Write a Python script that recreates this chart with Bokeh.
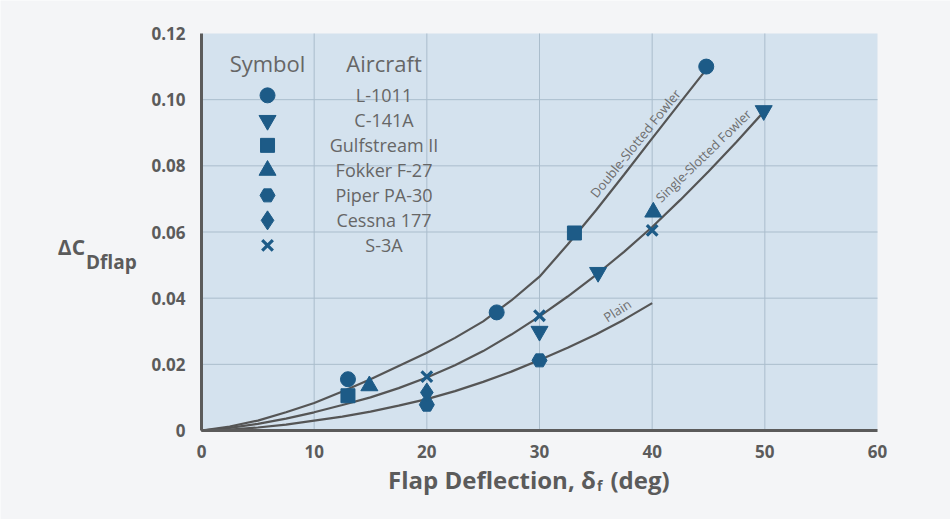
from bokeh.plotting import figure
from bokeh.models import FixedTicker, Label
from bokeh.core.properties import value
from bokeh.embed import file_html
from bokeh.resources import INLINE

# ---- data ----
curve_x_double = [0, 2.5, 5, 7.5, 10, 12.5, 15, 17.5, 20, 22.5, 25, 27.5, 30, 32.5, 35, 37.5, 40, 42.5, 45]
curve_y_double = [0, 0.0012, 0.003, 0.0055, 0.0083, 0.0118, 0.0155, 0.0195, 0.0235, 0.028, 0.033, 0.0393,
                  0.0465, 0.0562, 0.0665, 0.0773, 0.0883, 0.0992, 0.110]
curve_x_single = [0, 2.5, 5, 7.5, 10, 12.5, 15, 17.5, 20, 22.5, 25, 27.5, 30, 32.5, 35, 37.5, 40, 42.5, 45,
                  47.5, 50]
curve_y_single = [0, 0.0008, 0.002, 0.0036, 0.0055, 0.0077, 0.010, 0.0128, 0.016, 0.0197, 0.024, 0.029,
                  0.0345, 0.0405, 0.047, 0.054, 0.0615, 0.0697, 0.0783, 0.0873, 0.0967]
curve_x_plain = [0, 2.5, 5, 7.5, 10, 12.5, 15, 17.5, 20, 22.5, 25, 27.5, 30, 32.5, 35, 37.5, 40]
curve_y_plain = [0, 0.0003, 0.0009, 0.0018, 0.003, 0.0042, 0.0057, 0.0075, 0.0095, 0.0119, 0.0147, 0.0178,
                 0.0213, 0.025, 0.029, 0.0335, 0.0385]
curve_names = ["Double-Slotted Fowler", "Single-Slotted Fowler", "Plain"]

aircraft = ["L-1011", "C-141A", "Gulfstream II", "Fokker F-27", "Piper PA-30", "Cessna 177", "S-3A"]
markers = ["circle", "inverted_triangle", "square", "triangle", "hex", "diamond", "x"]
pts_x = {
    "L-1011": [13, 26.2, 44.8],
    "C-141A": [30, 35.2, 49.9],
    "Gulfstream II": [13, 33.1],
    "Fokker F-27": [14.9, 40.1],
    "Piper PA-30": [20, 30],
    "Cessna 177": [20],
    "S-3A": [20, 30, 40],
}
pts_y = {
    "L-1011": [0.0155, 0.0357, 0.110],
    "C-141A": [0.030, 0.0478, 0.0967],
    "Gulfstream II": [0.0105, 0.0597],
    "Fokker F-27": [0.0135, 0.066],
    "Piper PA-30": [0.0078, 0.0212],
    "Cessna 177": [0.0115],
    "S-3A": [0.0163, 0.0347, 0.0605],
}

x_ticks = [0, 10, 20, 30, 40, 50, 60]
y_ticks = [0, 0.02, 0.04, 0.06, 0.08, 0.10, 0.12]
y_tick_labels = ["0", "0.02", "0.04", "0.06", "0.08", "0.10", "0.12"]

FONT = "Open Sans"
MARK = "#1d5b87"
GRAY = "#5b5b5b"
TXT = "#666666"
W, H = 950, 519

x0, x1 = x_ticks[0], x_ticks[-1]
y0, y1 = y_ticks[0], y_ticks[-1]
# frame covers the whole canvas; plot box (0..60, 0..0.12) sits at px 201..877 x 430..33
px_per_x = (877 - 201) / (x1 - x0)
px_per_y = (430 - 33) / (y1 - y0)
xr = (-201 / px_per_x, (W - 201) / px_per_x)
yr = ((430 - H) / px_per_y, 430 / px_per_y)

p = figure(width=W, height=H, x_range=xr, y_range=yr,
           output_backend="svg", toolbar_location=None, min_border=0)
p.background_fill_color = "#f4f5f7"
p.border_fill_color = "#f4f5f7"
p.outline_line_color = None
p.grid.visible = False

# plot area and grid
p.quad(left=[x0], right=[x1], bottom=[y0], top=[y1], fill_color="#d4e2ee", line_color=None)
gx = x_ticks[1:-1]
gy = y_ticks[1:-1]
p.segment(x0=gx, y0=[y0] * len(gx), x1=gx, y1=[y1] * len(gx), line_color="#aabdcc", line_width=1)
p.segment(x0=[x0] * len(gy), y0=gy, x1=[x1] * len(gy), y1=gy, line_color="#aabdcc", line_width=1)

p.xaxis.ticker = FixedTicker(ticks=x_ticks)
p.yaxis.ticker = FixedTicker(ticks=y_ticks)
p.yaxis.major_label_overrides = {t: l for t, l in zip(y_ticks, y_tick_labels)}
p.xaxis.fixed_location = 0
p.yaxis.fixed_location = 0
p.xaxis.bounds = (x0, x1)
p.yaxis.bounds = (y0, y1)
for ax in (p.xaxis, p.yaxis):
    ax.axis_line_color = GRAY
    ax.axis_line_width = 3
    ax.major_tick_line_color = None
    ax.minor_tick_line_color = None
    ax.major_label_text_font = FONT
    ax.major_label_text_font_style = "bold"
    ax.major_label_text_font_size = "17px"
    ax.major_label_text_color = GRAY
p.xaxis.major_label_standoff = 8
p.yaxis.major_label_standoff = 10

# curves
for cx, cy in ((curve_x_double, curve_y_double), (curve_x_single, curve_y_single), (curve_x_plain, curve_y_plain)):
    p.line(cx, cy, line_color="#555555", line_width=2.2)

# curve labels
for name, lx, ly, ang in ((curve_names[0], 38.5, 0.0868, 51), (curve_names[1], 44.55, 0.0831, 44),
                          (curve_names[2], 36.9, 0.0363, 33)):
    p.add_layout(Label(x=lx, y=ly, text=name, angle=ang * 3.14159265 / 180, text_align="center",
                       text_baseline="middle", text_font=FONT, text_font_size="13px", text_color="#6e6e6e"))


def draw_marker(xs, ys, mk):
    if mk == "x":
        p.scatter(xs, ys, marker=mk, size=15, line_color=MARK, line_width=3.2)
    else:
        sz = {"circle": 15, "hex": 15, "square": 14, "diamond": 19}.get(mk, 17)
        p.scatter(xs, ys, marker=mk, size=sz, fill_color=MARK, line_color=MARK)


# data points
for name, mk in zip(aircraft, markers):
    draw_marker(pts_x[name], pts_y[name], mk)

# legend table
sym_x = 5.86
name_x = 16.2
row0 = 0.1013
step = 25 / px_per_y
head_y = 0.1112
leg_y = [row0 - i * step for i in range(len(aircraft))]
for i, mk in enumerate(markers):
    draw_marker([sym_x], [leg_y[i]], mk)
p.text(x=[name_x] * len(aircraft), y=leg_y, text=aircraft, text_align="center", text_baseline="middle",
       text_font=value(FONT), text_font_size="18px", text_color=TXT)
p.text(x=[sym_x, name_x], y=[head_y, head_y], text=["Symbol", "Aircraft"], text_align="center",
       text_baseline="middle", text_font=value(FONT), text_font_size="22px", text_color=TXT)

# y axis label: ΔC_D_flap
for t, lx, ly, fs in (("ΔC", -12.75, 0.0556, "21px"), ("Dflap", -10.25, 0.0510, "19px")):
    p.add_layout(Label(x=lx, y=ly, text=t, text_align="left", text_baseline="alphabetic",
                       text_font=FONT, text_font_style="bold", text_font_size=fs, text_color=GRAY))

# x axis label: Flap Deflection, δ_f (deg)
p.add_layout(Label(x=35.0, y=-0.0147, text="Flap Deflection, δ", text_align="right", text_baseline="alphabetic",
                   text_font=FONT, text_font_style="bold", text_font_size="24px", text_color=GRAY))
p.add_layout(Label(x=35.1, y=-0.0165, text="f", text_align="left", text_baseline="alphabetic",
                   text_font=FONT, text_font_style="bold", text_font_size="14px", text_color=GRAY))
p.add_layout(Label(x=36.3, y=-0.0147, text="(deg)", text_align="left", text_baseline="alphabetic",
                   text_font=FONT, text_font_style="bold", text_font_size="24px", text_color=GRAY))

open("out.html", "w").write(file_html(p, INLINE))
